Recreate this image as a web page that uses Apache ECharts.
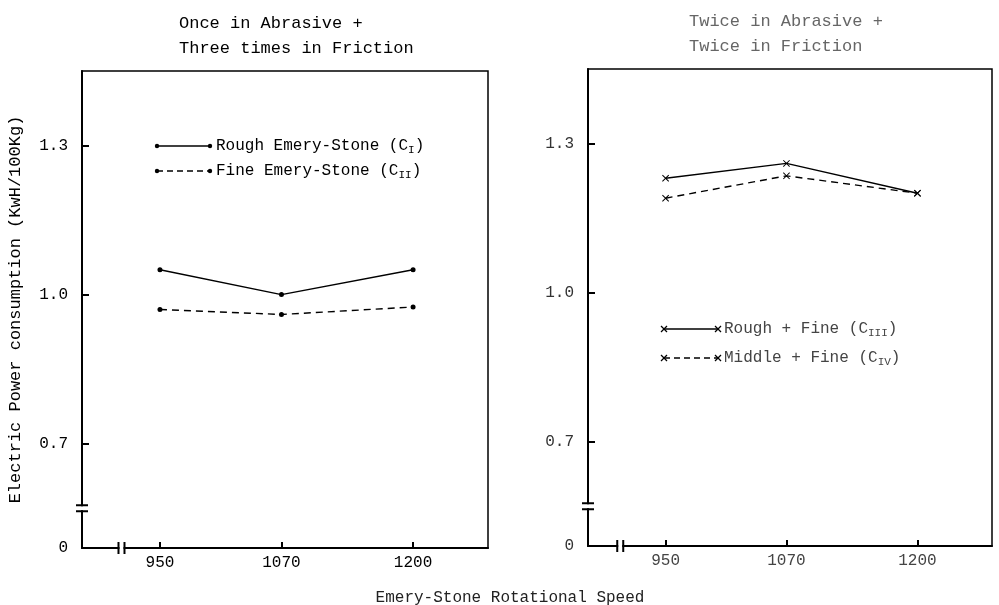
<!DOCTYPE html>
<html>
<head>
<meta charset="utf-8">
<script src="https://cdn.jsdelivr.net/npm/echarts@6/dist/echarts.min.js"></script>
<style>
  html, body { margin: 0; padding: 0; background: #fff; }
  #main { width: 999px; height: 605px; }
</style>
</head>
<body>
<div id="main"></div>
<script>
// values
const speeds = [950, 1070, 1200]
const roughStone = [1.05, 1.00, 1.05]
const fineStone = [0.97, 0.96, 0.975]
const roughFine = [1.23, 1.26, 1.20]
const middleFine = [1.19, 1.235, 1.20]
const yTicks = [0.7, 1.0, 1.3]
const yMin = 0.49
const yMax = 1.45
const xMin = 873
const xMax = 1274

const FONT = '"Liberation Mono", "DejaVu Sans Mono", monospace'
const crossPath = 'path://M0,1 L1,0 L5,4 L9,0 L10,1 L6,5 L10,9 L9,10 L5,6 L1,10 L0,9 L4,5 Z'

function pairs (ys) {
  return speeds.map((s, i) => [s, ys[i]])
}

function xAxisFor (idx, color) {
  return {
    type: 'value',
    gridIndex: idx,
    min: xMin,
    max: xMax,
    axisLine: { show: true, onZero: false, lineStyle: { color: '#000', width: 2 } },
    axisTick: { show: true, inside: true, length: 6, customValues: speeds, lineStyle: { color: '#000', width: 2 } },
    axisLabel: { customValues: speeds, margin: 7, color: color, fontFamily: FONT, fontSize: 16, formatter: v => String(v) },
    splitLine: { show: false }
  }
}

function yAxisFor (idx, color, name) {
  return {
    type: 'value',
    gridIndex: idx,
    min: yMin,
    max: yMax,
    name: name,
    nameLocation: 'middle',
    nameGap: 58,
    nameTextStyle: { color: '#000', fontFamily: FONT, fontSize: 17 },
    axisLine: { show: true, onZero: false, lineStyle: { color: '#000', width: 2 } },
    axisTick: { show: true, inside: true, length: 7, customValues: yTicks, lineStyle: { color: '#000', width: 2 } },
    axisLabel: {
      customValues: [yMin].concat(yTicks),
      margin: 14,
      color: color,
      fontFamily: FONT,
      fontSize: 16,
      formatter: v => (Math.abs(v - yMin) < 1e-6 ? '0' : v.toFixed(1))
    },
    splitLine: { show: false }
  }
}

function lineSeries (name, idx, ys, dashed, symbol, size) {
  return {
    name: name,
    type: 'line',
    xAxisIndex: idx,
    yAxisIndex: idx,
    data: pairs(ys),
    symbol: symbol,
    symbolSize: size,
    itemStyle: { color: '#000' },
    lineStyle: { color: '#000', width: 1.4, type: dashed ? [7, 5] : 'solid' },
    emphasis: { disabled: true },
    animation: false
  }
}

let myChart = echarts.init(document.getElementById('main'))
myChart.setOption({
  animation: false,
  title: [
    { text: 'Once in Abrasive +\nThree times in Friction', left: 174, top: 6,
      textStyle: { color: '#000', fontFamily: FONT, fontSize: 17, fontWeight: 'normal', lineHeight: 25 } },
    { text: 'Twice in Abrasive +\nTwice in Friction', left: 684, top: 4,
      textStyle: { color: '#666', fontFamily: FONT, fontSize: 17, fontWeight: 'normal', lineHeight: 25 } },
    { text: 'Emery-Stone Rotational Speed', left: 505, top: 585, textAlign: 'center',
      textStyle: { color: '#222', fontFamily: FONT, fontSize: 16, fontWeight: 'normal' } }
  ],
  grid: [
    { left: 82, width: 406, top: 71, bottom: 57, show: true, borderColor: '#000', borderWidth: 1.5 },
    { left: 588, width: 404, top: 69, bottom: 59, show: true, borderColor: '#000', borderWidth: 1.5 }
  ],
  xAxis: [xAxisFor(0, '#000'), xAxisFor(1, '#444')],
  yAxis: [yAxisFor(0, '#000', 'Electric Power consumption (KwH/100Kg)'), yAxisFor(1, '#333', '')],
  series: [
    lineSeries('Rough Emery-Stone', 0, roughStone, false, 'circle', 5),
    lineSeries('Fine Emery-Stone', 0, fineStone, true, 'circle', 5),
    lineSeries('Rough + Fine', 1, roughFine, false, crossPath, 7),
    lineSeries('Middle + Fine', 1, middleFine, true, crossPath, 7)
  ]
})

// axis break marks and hand-drawn style legends
function breakMarks (idx, xBreak, yBreak) {
  const corner = myChart.convertToPixel({ gridIndex: idx }, [xMin, yMin])
  const yb = myChart.convertToPixel({ gridIndex: idx }, [xMin, yBreak])[1]
  const xb = myChart.convertToPixel({ gridIndex: idx }, [xBreak, yMin])[0]
  const x0 = corner[0]
  const y0 = corner[1]
  const ln = { stroke: '#000', lineWidth: 2 }
  return [
    { type: 'rect', z: 100, shape: { x: x0 - 3, y: yb - 2, width: 6, height: 4 }, style: { fill: '#fff' } },
    { type: 'line', z: 101, shape: { x1: x0 - 6, y1: yb - 3, x2: x0 + 6, y2: yb - 3 }, style: ln },
    { type: 'line', z: 101, shape: { x1: x0 - 6, y1: yb + 3, x2: x0 + 6, y2: yb + 3 }, style: ln },
    { type: 'rect', z: 100, shape: { x: xb - 2, y: y0 - 3, width: 4, height: 6 }, style: { fill: '#fff' } },
    { type: 'line', z: 101, shape: { x1: xb - 3, y1: y0 - 6, x2: xb - 3, y2: y0 + 6 }, style: ln },
    { type: 'line', z: 101, shape: { x1: xb + 3, y1: y0 - 6, x2: xb + 3, y2: y0 + 6 }, style: ln }
  ]
}

function legendItem (x1, x2, y, dashed, cross, label, sub, color) {
  const items = [
    { type: 'line', z: 50, shape: { x1: x1, y1: y, x2: x2, y2: y },
      style: { stroke: '#000', lineWidth: 1.3, lineDash: dashed ? [6, 4] : null } }
  ]
  ;[x1, x2].forEach(px => {
    if (cross) {
      items.push({ type: 'line', z: 51, shape: { x1: px - 3, y1: y - 3, x2: px + 3, y2: y + 3 }, style: { stroke: '#000', lineWidth: 1.3 } })
      items.push({ type: 'line', z: 51, shape: { x1: px - 3, y1: y + 3, x2: px + 3, y2: y - 3 }, style: { stroke: '#000', lineWidth: 1.3 } })
    } else {
      items.push({ type: 'circle', z: 51, shape: { cx: px, cy: y, r: 2.2 }, style: { fill: '#000' } })
    }
  })
  items.push({
    type: 'text', z: 51, x: x2 + 6, y: y,
    style: {
      text: '{n|' + label + ' (C}{s|' + sub + '}{n|)}',
      verticalAlign: 'middle',
      rich: {
        n: { fontFamily: FONT, fontSize: 16, fill: color },
        s: { fontFamily: FONT, fontSize: 11, fill: color, padding: [9, 0, 0, 0] }
      }
    }
  })
  return items
}

myChart.setOption({
  graphic: [].concat(
    breakMarks(0, 912, 0.57),
    breakMarks(1, 905, 0.57),
    legendItem(157, 210, 146, false, false, 'Rough Emery-Stone', 'I', '#000'),
    legendItem(157, 210, 171, true, false, 'Fine Emery-Stone', 'II', '#000'),
    legendItem(664, 718, 329, false, true, 'Rough + Fine', 'III', '#444'),
    legendItem(664, 718, 358, true, true, 'Middle + Fine', 'IV', '#444')
  )
})
</script>
</body>
</html>
